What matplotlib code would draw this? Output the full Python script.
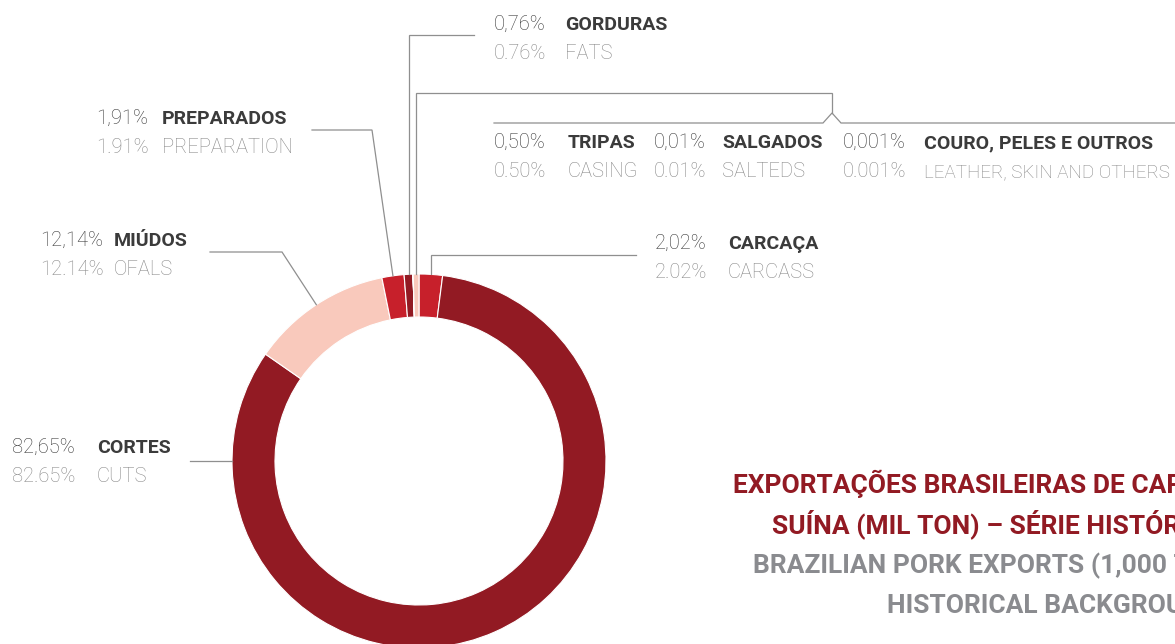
import numpy as np
import matplotlib.pyplot as plt

plt.rcParams['font.family'] = ['Roboto', 'DejaVu Sans']

W, H = 1175, 644

# clockwise from 12 o'clock
cats_pt = ['CARCAÇA', 'CORTES', 'MIÚDOS', 'PREPARADOS', 'GORDURAS',
           'COURO, PELES E OUTROS', 'SALGADOS', 'TRIPAS']
cats_en = ['CARCASS', 'CUTS', 'OFALS', 'PREPARATION', 'FATS',
           'LEATHER, SKIN AND OTHERS', 'SALTEDS', 'CASING']
shares = [2.02, 82.65, 12.14, 1.91, 0.76, 0.001, 0.01, 0.50]

DARK = '#921a23'
RED = '#c7202b'
PINK = '#f9c9bc'
slice_colors = [RED, DARK, PINK, RED, DARK, RED, RED, PINK]

TITLE_PT = ['EXPORTAÇÕES BRASILEIRAS DE CARNE', 'SUÍNA (MIL TON) – SÉRIE HISTÓRICA']
TITLE_EN = ['BRAZILIAN PORK EXPORTS (1,000 TONS) –', 'HISTORICAL BACKGROUND']

LINE = '#8f8f8f'
C_PCT = '#353535'
C_NAME = '#3b3b3b'
C_EN = '#888888'


def y(v):
    # image rows (top down) -> data coords
    return H - v


def fmt(v, sep):
    s = f"{v:.2f}" if round(v, 2) == v else f"{v:.3f}"
    return s.replace('.', sep) + '%'


fig = plt.figure(figsize=(W / 100, H / 100), dpi=100)
ax = fig.add_axes([0, 0, 1, 1])

cx, cy, R = 419, 461, 187
wedges, _ = ax.pie(shares, colors=slice_colors, startangle=90, counterclock=False,
                   radius=R, center=(cx, y(cy)),
                   wedgeprops=dict(width=43, edgecolor='white', linewidth=0.8))
ax.set_xlim(0, W)
ax.set_ylim(0, H)
ax.set_aspect('equal')
ax.axis('off')


def anchor(i):
    w = wedges[i]
    t = np.deg2rad((w.theta1 + w.theta2) / 2)
    return cx + R * np.cos(t), cy - R * np.sin(t)


def leader(pts):
    xs = [p[0] for p in pts]
    ys = [y(p[1]) for p in pts]
    ax.plot(xs, ys, color=LINE, lw=0.9, solid_joinstyle='miter')


def label(i, xp, xn, base, en_size=14.5):
    ax.text(xp, y(base), fmt(shares[i], ','), fontsize=14.5, fontweight='light',
            color=C_PCT, va='baseline')
    ax.text(xn, y(base), cats_pt[i], fontsize=14, fontweight='bold',
            color=C_NAME, va='baseline')
    ax.text(xp, y(base + 29), fmt(shares[i], '.'), fontsize=14.5, fontweight='light',
            color=C_EN, va='baseline')
    ax.text(xn, y(base + 29), cats_en[i], fontsize=en_size, fontweight='light',
            color=C_EN, va='baseline')


# CORTES
leader([(cx - R, cy), (190, cy)])
label(1, 12, 97, 453)

# MIUDOS
a = anchor(2)
leader([a, (282, 252), (210, 252)])
label(2, 40, 114, 246)

# PREPARADOS
a = anchor(3)
leader([a, (372, 130), (312, 130)])
label(3, 96, 162, 124)

# GORDURAS
a = anchor(4)
leader([a, (a[0], 35), (474, 35)])
label(4, 494, 565, 30)

# TRIPAS / SALGADOS / COURO
a = anchor(7)
leader([a, (a[0], 93), (832, 93), (832, 113)])
leader([(494, 123), (823, 123), (832, 113), (841, 123), (W, 123)])
label(7, 494, 568, 148)
label(6, 654, 722, 148)
label(5, 843, 924, 148, en_size=13.5)

# CARCACA
a = anchor(0)
leader([a, (a[0], 255), (636, 255)])
label(0, 655, 728, 249)

# title (runs off the right edge like the original)
tkw = dict(fontsize=19, fontweight='bold', va='baseline')
ax.text(733, y(493), TITLE_PT[0], color='#921a23', **tkw)
ax.text(772, y(533), TITLE_PT[1], color='#921a23', **tkw)
ax.text(753, y(573), TITLE_EN[0], color='#8a8b8f', **tkw)
ax.text(887, y(613), TITLE_EN[1], color='#8a8b8f', **tkw)

fig.savefig('out.png', dpi=100, facecolor='white')
